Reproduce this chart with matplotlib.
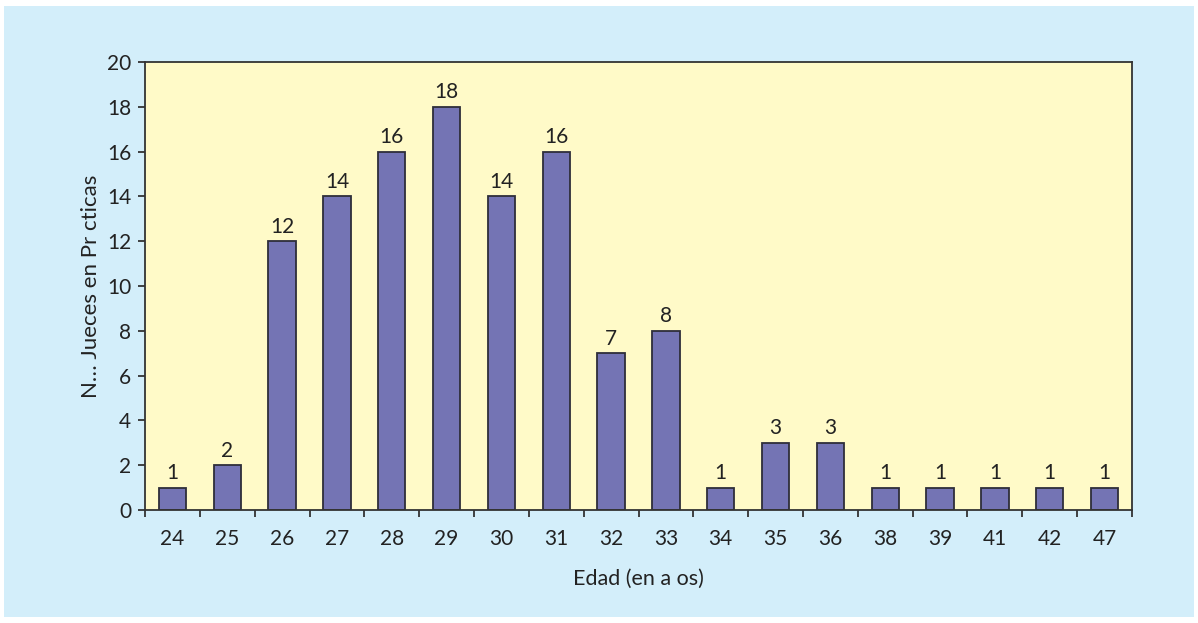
import matplotlib.pyplot as plt
from matplotlib.patches import Rectangle

edades = ["24", "25", "26", "27", "28", "29", "30", "31", "32", "33",
          "34", "35", "36", "38", "39", "41", "42", "47"]
jueces = [1, 2, 12, 14, 16, 18, 14, 16, 7, 8, 1, 3, 3, 1, 1, 1, 1, 1]
y_ticks = list(range(0, 21, 2))

plt.rcParams['font.family'] = ['Lato', 'DejaVu Sans']

fig = plt.figure(figsize=(11.98, 6.23), dpi=100, facecolor="white")
# Fondo celeste del grafico
fig.patches.append(Rectangle((4 / 1198, 6 / 623), 1190 / 1198, 611 / 623,
                             transform=fig.transFigure, facecolor="#d3eefa",
                             edgecolor="none", zorder=-5))

ax = fig.add_axes([145 / 1198, 1 - 510 / 623, 987 / 1198, 448 / 623])
ax.set_facecolor("#fffac8")

x = range(len(edades))
bars = ax.bar(x, jueces, width=0.5, color="#7474b4", edgecolor="#2e2e3a",
              linewidth=1.3, zorder=2)

for xi, v in zip(x, jueces):
    ax.text(xi, v + 0.2, str(v), ha="center", va="bottom",
            fontsize=15, color="#222222")

ax.set_xlim(-0.5, len(edades) - 0.5)
ax.set_ylim(0, 20)
ax.set_yticks(y_ticks)
ax.set_xticks([i + 0.5 for i in range(-1, len(edades))], minor=False)
ax.set_xticklabels([])
ax.set_xticks(list(x), minor=True)
ax.set_xticklabels(edades, minor=True)
ax.tick_params(axis="x", which="minor", length=0, pad=14, labelsize=15,
               colors="#222222")
ax.tick_params(axis="x", which="major", length=5, width=1.3, color="#333333")
ax.tick_params(axis="y", length=5, width=1.3, color="#333333", labelsize=15,
               labelcolor="#222222", pad=5)

for s in ax.spines.values():
    s.set_color("#333333")
    s.set_linewidth(1.3)

ax.set_xlabel("Edad (en a os)", fontsize=15.5, color="#222222", labelpad=14)
ax.set_ylabel("N… Jueces en Pr cticas", fontsize=16, color="#222222",
              labelpad=4)

fig.savefig("out.png", dpi=100, facecolor=fig.get_facecolor())
